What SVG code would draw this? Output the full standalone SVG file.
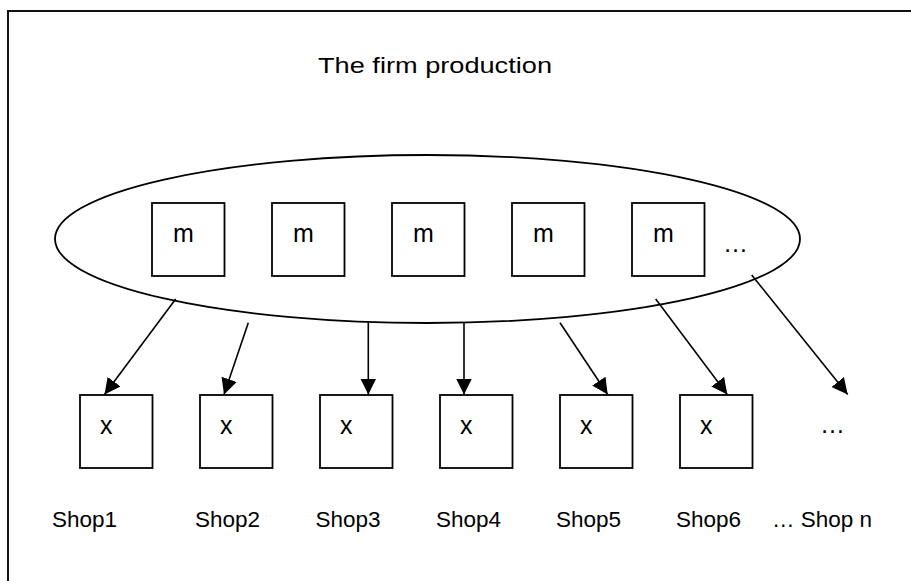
<svg xmlns="http://www.w3.org/2000/svg" width="911" height="581" viewBox="0 0 911 581">
  <style>
    .frame { fill: none; stroke: #111; stroke-width: 2; }
    .box { fill: #fff; stroke: #000; stroke-width: 1.8; }
    .ring { fill: none; stroke: #000; stroke-width: 1.8; }
    .lbl { font-family: "Liberation Sans", Arial, sans-serif; font-size: 25px; fill: #000; }
    .cap { font-family: "Liberation Sans", Arial, sans-serif; font-size: 22.5px; fill: #000; }
    .edge { fill: none; stroke: #000; stroke-width: 1.6; marker-end: url(#head); }
  </style>
  <defs>
    <marker id="head" markerUnits="userSpaceOnUse" markerWidth="17" markerHeight="17" refX="16" refY="8" orient="auto">
      <path d="M0,0 L16,8 L0,16 Z" fill="#000"/>
    </marker>
  </defs>

  <rect width="911" height="581" fill="#fff"/>
  <path class="frame" d="M8,581 L8,11 L911,11"/>

  <text class="cap" x="318" y="73" font-size="25.5" textLength="234" lengthAdjust="spacingAndGlyphs">The firm production</text>

  <g id="firm">
    <ellipse class="ring" cx="427.5" cy="239" rx="372.5" ry="84"/>
    <text class="lbl" x="723" y="252">…</text>
  </g>

  <g id="m1"><rect class="box" x="152" y="203" width="72.5" height="73"/><text class="lbl" x="173" y="242">m</text></g>
  <g id="m2"><rect class="box" x="272" y="203" width="72.5" height="73"/><text class="lbl" x="293" y="242">m</text></g>
  <g id="m3"><rect class="box" x="392" y="203" width="72.5" height="73"/><text class="lbl" x="413" y="242">m</text></g>
  <g id="m4"><rect class="box" x="512" y="203" width="72.5" height="73"/><text class="lbl" x="533" y="242">m</text></g>
  <g id="m5"><rect class="box" x="632" y="203" width="72.5" height="73"/><text class="lbl" x="653" y="242">m</text></g>

  <g id="shop1"><rect class="box" x="80" y="395" width="72.5" height="73"/><text class="lbl" x="100" y="434">x</text><text class="cap" x="52" y="527">Shop1</text></g>
  <g id="shop2"><rect class="box" x="200" y="395" width="72.5" height="73"/><text class="lbl" x="220" y="434">x</text><text class="cap" x="195" y="527">Shop2</text></g>
  <g id="shop3"><rect class="box" x="320" y="395" width="72.5" height="73"/><text class="lbl" x="340" y="434">x</text><text class="cap" x="315.5" y="527">Shop3</text></g>
  <g id="shop4"><rect class="box" x="440" y="395" width="72.5" height="73"/><text class="lbl" x="460" y="434">x</text><text class="cap" x="436" y="527">Shop4</text></g>
  <g id="shop5"><rect class="box" x="560" y="395" width="72.5" height="73"/><text class="lbl" x="580" y="434">x</text><text class="cap" x="556" y="527">Shop5</text></g>
  <g id="shop6"><rect class="box" x="680" y="395" width="72.5" height="73"/><text class="lbl" x="700" y="434">x</text><text class="cap" x="676" y="527">Shop6</text></g>
  <g id="shopn"><text class="lbl" x="820" y="433">…</text><text class="cap" x="772" y="527">… Shop n</text></g>

  <g id="connectors">
    <line class="edge" x1="175.7" y1="299" x2="104.5" y2="394.5"/>
    <line class="edge" x1="248.3" y1="322.7" x2="224" y2="394.5"/>
    <line class="edge" x1="368.3" y1="322.7" x2="368.3" y2="394.5"/>
    <line class="edge" x1="464" y1="322.7" x2="464" y2="394.5"/>
    <line class="edge" x1="560" y1="322.7" x2="607.7" y2="394.5"/>
    <line class="edge" x1="655.7" y1="299" x2="727.3" y2="394.5"/>
    <line class="edge" x1="751.7" y1="275" x2="847.7" y2="394.5"/>
  </g>
</svg>
